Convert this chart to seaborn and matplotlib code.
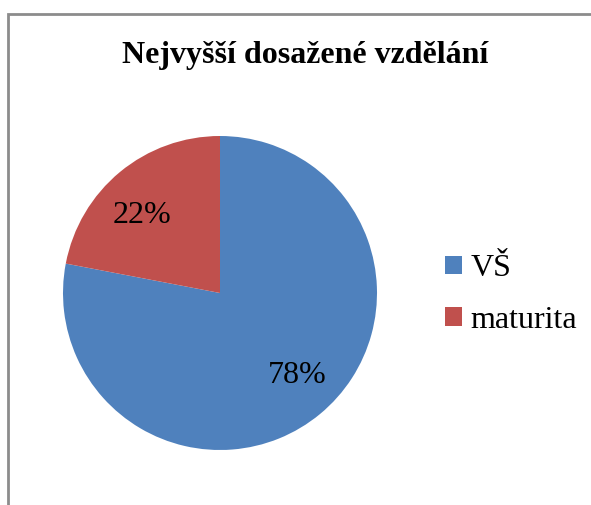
import matplotlib
matplotlib.use("Agg")
from matplotlib import pyplot as plt
from matplotlib.patches import Rectangle
import numpy as np
import seaborn as sns

labels = ['VŠ', 'maturita']
values = [78, 22]
colors = ['#4F81BD', '#C0504D']
title = 'Nejvyšší dosažené vzdělání'

sns.set_theme(style='white')
plt.rcParams['font.family'] = ['Liberation Serif', 'DejaVu Serif']
plt.rcParams['text.color'] = 'black'

fig = plt.figure(figsize=(5.91, 5.05), dpi=100)
fig.patch.set_facecolor('white')

# chart border (only top and left edges visible in the crop)
fig.add_artist(Rectangle((7.5 / 591, -0.1), 1.2, (505 - 13.5) / 505 + 0.1,
                         transform=fig.transFigure, fill=False,
                         edgecolor='#8c8c8c', linewidth=2))

ax = fig.add_axes([(220 - 157) / 591, (212 - 157) / 505, 314 / 591, 314 / 505])
wedges, texts = ax.pie(values, colors=colors, startangle=90, counterclock=False,
                       wedgeprops=dict(linewidth=0))
ax.set_xlim(-1, 1)
ax.set_ylim(-1, 1)
ax.set_aspect('equal')
ax.axis('off')

# percentage labels
for w, v in zip(wedges, values):
    ang = np.deg2rad((w.theta1 + w.theta2) / 2 + 4.5)
    ax.text(0.71 * np.cos(ang), 0.71 * np.sin(ang) - 0.015, f'{v}%', ha='center', va='center',
            fontsize=23, color='black')

fig.text(305 / 591, 1 - 55 / 505, title, ha='center', va='center',
         fontsize=23, fontweight='bold', color='black')

handles = [Rectangle((0, 0), 1, 1, facecolor=c, edgecolor='none') for c in colors]
leg = fig.legend(handles, labels, loc='center left', bbox_to_anchor=(0.705, 0.417),
                 frameon=False, fontsize=23, handlelength=0.53, handleheight=0.53,
                 handletextpad=0.25, labelspacing=0.7)
for t in leg.get_texts():
    t.set_color('black')

fig.savefig('out.png', dpi=100)
